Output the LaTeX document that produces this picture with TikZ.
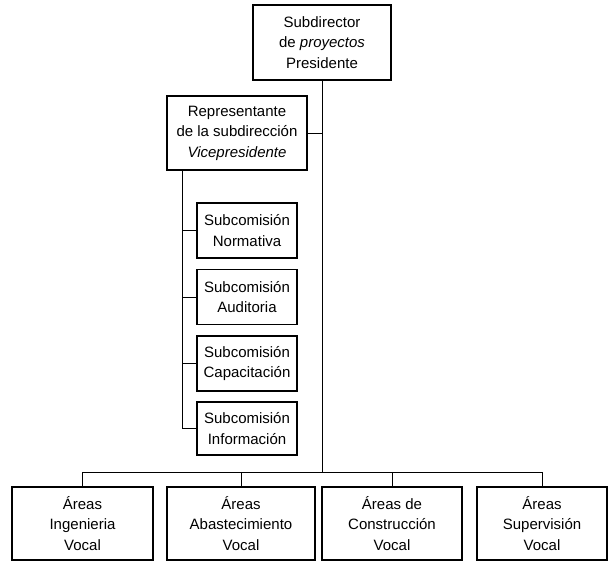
\documentclass[tikz,border=0pt]{standalone}
\usepackage{fontspec}
\setmainfont{Liberation Sans}
\begin{document}
\begin{tikzpicture}[x=1pt,y=-1pt,
  box/.style={draw, line width=1.1pt, rectangle, inner sep=0pt, align=center,
    font=\fontsize{15}{20.5}\selectfont},
  conn/.style={line width=1pt}]
\useasboundingbox (0,0) rectangle (609,567);
\node[box, minimum width=138pt, minimum height=75pt] (top) at (322,42.5)
  {Subdirector\\de \textit{proyectos}\\Presidente};
\node[box, minimum width=140pt, minimum height=74pt] (rep) at (237,133)
  {Representante\\de la subdirección\\\textit{Vicepresidente}};
\node[box, minimum width=100pt, minimum height=55pt] (norm) at (247,230.5)
  {Subcomisión\\Normativa};
\node[box, minimum width=100pt, minimum height=55pt] (aud) at (247,297)
  {Subcomisión\\Auditoria};
\node[box, minimum width=100pt, minimum height=55pt] (cap) at (247,363.5)
  {Subcomisión\\Capacitación};
\node[box, minimum width=100pt, minimum height=53pt] (info) at (247,428.5)
  {Subcomisión\\Información};
\node[box, minimum width=141pt, minimum height=73pt] (ing) at (82.5,523.5)
  {Áreas\\Ingenieria\\Vocal};
\node[box, minimum width=148pt, minimum height=73pt] (abas) at (241,523.5)
  {Áreas\\Abastecimiento\\Vocal};
\node[box, minimum width=140pt, minimum height=73pt] (cons) at (392,523.5)
  {Áreas de\\Construcción\\Vocal};
\node[box, minimum width=130pt, minimum height=73pt] (sup) at (542,523.5)
  {Áreas\\Supervisión\\Vocal};
\coordinate (busy) at (0,472);
\coordinate (lx) at (182,0);
\draw[conn] (top.south) -- (top.south |- busy);
\draw[conn] (ing.north) -- (ing.north |- busy) -- (sup.north |- busy) -- (sup.north);
\draw[conn] (abas.north) -- (abas.north |- busy);
\draw[conn] (cons.north) -- (cons.north |- busy);
\draw[conn] (rep.east) -- (rep.east -| top.south);
\draw[conn] (rep.south -| lx) -- (info.west -| lx);
\foreach \n in {norm,aud,cap,info}
  \draw[conn] (\n.west) -- (\n.west -| lx);
\end{tikzpicture}
\end{document}
